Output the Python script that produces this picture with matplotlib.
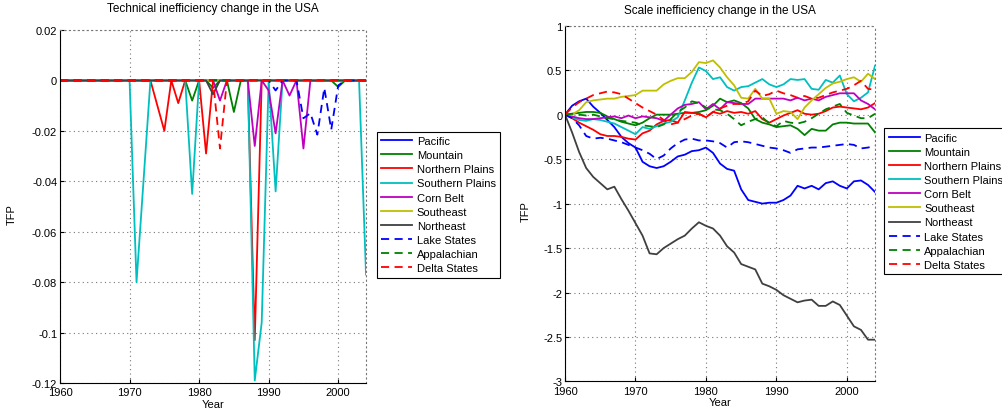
import numpy as np
import matplotlib
matplotlib.use("Agg")
import matplotlib.pyplot as plt

plt.rcParams['font.family'] = ['Liberation Sans', 'DejaVu Sans']

years = np.arange(1960, 2005)

regions = ["Pacific", "Mountain", "Northern Plains", "Southern Plains", "Corn Belt",
           "Southeast", "Northeast", "Lake States", "Appalachian", "Delta States"]
colors = ['#0000ff', '#008000', '#ff0000', '#00bfbf', '#bf00bf',
          '#bfbf00', '#404040', '#0000ff', '#008000', '#ff0000']
styles = ['-', '-', '-', '-', '-', '-', '-', '--', '--', '--']

# technical inefficiency change, 1960-2004 (one row per decade)
tech_pacific = [0, 0, 0, 0, 0, 0, 0, 0, 0, 0,
                0, 0, 0, 0, 0, 0, 0, 0, 0, 0,
                0, 0, 0, 0, 0, 0, 0, 0, 0, 0,
                0, 0, 0, 0, 0, 0, 0, 0, 0, 0,
                0, 0, 0, 0, 0]
tech_mountain = [0, 0, 0, 0, 0, 0, 0, 0, 0, 0,
                 0, 0, 0, 0, 0, 0, 0, 0, 0, -0.008,
                 0, 0, -0.003, 0, 0, -0.0125, 0, 0, 0, 0,
                 0, 0, 0, 0, 0, 0, 0, 0, 0, 0,
                 -0.0026, 0, 0, 0, 0]
tech_nplains = [0, 0, 0, 0, 0, 0, 0, 0, 0, 0,
                0, 0, 0, 0, -0.010, -0.020, 0, -0.009, 0, 0,
                0, -0.029, 0, 0, 0, 0, 0, 0, -0.103, 0,
                0, 0, 0, 0, 0, 0, 0, 0, 0, 0,
                0, 0, 0, 0, 0]
tech_splains = [0, 0, 0, 0, 0, 0, 0, 0, 0, 0,
                0, -0.080, -0.040, 0, 0, 0, 0, 0, 0, -0.045,
                0, 0, 0, 0, 0, 0, 0, 0, -0.119, -0.096,
                0, -0.044, 0, 0, 0, 0, 0, 0, 0, 0,
                0, 0, 0, 0, -0.077]
tech_cornbelt = [0, 0, 0, 0, 0, 0, 0, 0, 0, 0,
                 0, 0, 0, 0, 0, 0, 0, 0, 0, 0,
                 0, 0, 0, -0.008, 0, 0, 0, 0, -0.026, 0,
                 -0.004, -0.021, 0, -0.006, 0, -0.027, 0, 0, 0, 0,
                 0, 0, 0, 0, 0]
tech_southeast = [0, 0, 0, 0, 0, 0, 0, 0, 0, 0,
                  0, 0, 0, 0, 0, 0, 0, 0, 0, 0,
                  0, 0, 0, 0, 0, 0, 0, 0, 0, 0,
                  0, 0, 0, 0, 0, 0, 0, 0, 0, 0,
                  0, 0, 0, 0, 0]
tech_northeast = [0, 0, 0, 0, 0, 0, 0, 0, 0, 0,
                  0, 0, 0, 0, 0, 0, 0, 0, 0, 0,
                  0, 0, -0.0055, 0, 0, 0, 0, 0, 0, 0,
                  0, 0, 0, 0, 0, 0, 0, 0, 0, 0,
                  0, 0, 0, 0, 0]
tech_lake = [0, 0, 0, 0, 0, 0, 0, 0, 0, 0,
             0, 0, 0, 0, 0, 0, 0, 0, 0, 0,
             0, 0, 0, 0, 0, 0, 0, 0, 0, 0,
             0, -0.004, 0, 0, 0, -0.015, -0.013, -0.0215, -0.003, -0.0195,
             -0.002, 0, 0, 0, 0]
tech_appalachian = [0, 0, 0, 0, 0, 0, 0, 0, 0, 0,
                    0, 0, 0, 0, 0, 0, 0, 0, 0, 0,
                    0, 0, 0, 0, 0, 0, 0, 0, 0, 0,
                    0, 0, 0, 0, 0, 0, 0, 0, 0, 0,
                    0, 0, 0, 0, 0]
tech_delta = [0, 0, 0, 0, 0, 0, 0, 0, 0, 0,
              0, 0, 0, 0, 0, 0, 0, 0, 0, 0,
              0, 0, 0, -0.027, 0, 0, 0, 0, 0, 0,
              0, 0, 0, 0, 0, 0, 0, 0, 0, 0,
              0, 0, 0, 0, 0]

# scale inefficiency change, 1960-2004
scale_pacific = [0, 0.10, 0.15, 0.18, 0.09, 0.02, -0.06, -0.14, -0.25, -0.32,
                 -0.37, -0.53, -0.58, -0.60, -0.58, -0.53, -0.47, -0.45, -0.41, -0.40,
                 -0.37, -0.43, -0.55, -0.61, -0.63, -0.84, -0.96, -0.98, -1.00, -0.99,
                 -0.99, -0.96, -0.91, -0.80, -0.83, -0.80, -0.84, -0.77, -0.75, -0.80,
                 -0.83, -0.75, -0.74, -0.79, -0.87]
scale_mountain = [0, 0.01, 0.02, 0.03, 0.03, 0.02, -0.02, -0.05, -0.08, -0.10,
                  -0.12, -0.09, -0.04, 0.00, 0.00, 0.00, 0.01, 0.02, 0.02, 0.03,
                  0.05, 0.10, 0.18, 0.14, 0.16, 0.13, 0.07, -0.05, -0.09, -0.11,
                  -0.14, -0.13, -0.12, -0.16, -0.23, -0.16, -0.18, -0.18, -0.11, -0.09,
                  -0.09, -0.10, -0.10, -0.10, -0.20]
scale_nplains = [0, -0.04, -0.09, -0.13, -0.17, -0.22, -0.24, -0.24, -0.25, -0.27,
                 -0.28, -0.21, -0.18, -0.11, -0.07, -0.06, -0.09, 0.03, 0.02, 0.01,
                 -0.03, 0.03, 0.01, 0.04, 0.02, 0.03, 0.01, 0.04, -0.05, -0.09,
                 -0.05, -0.01, 0.02, 0.05, 0.01, 0.00, 0.01, 0.04, 0.08, 0.09,
                 0.08, 0.07, 0.06, 0.08, 0.13]
scale_splains = [0, -0.03, -0.06, -0.07, -0.05, -0.06, -0.08, -0.10, -0.14, -0.18,
                 -0.22, -0.14, -0.16, -0.13, -0.10, -0.08, -0.03, 0.16, 0.36, 0.53,
                 0.49, 0.40, 0.42, 0.31, 0.27, 0.31, 0.32, 0.36, 0.40, 0.34,
                 0.31, 0.34, 0.40, 0.39, 0.40, 0.29, 0.28, 0.39, 0.36, 0.44,
                 0.23, 0.15, 0.19, 0.25, 0.55]
scale_cornbelt = [0, -0.02, -0.04, -0.05, -0.05, -0.04, -0.03, -0.02, -0.04, -0.01,
                  -0.04, -0.02, -0.03, -0.04, -0.07, 0.00, 0.07, 0.11, 0.12, 0.14,
                  0.06, 0.12, 0.06, 0.14, 0.13, 0.12, 0.12, 0.18, 0.18, 0.18,
                  0.18, 0.18, 0.16, 0.19, 0.16, 0.18, 0.16, 0.20, 0.22, 0.24,
                  0.24, 0.24, 0.16, 0.12, 0.06]
scale_southeast = [0, 0.00, 0.05, 0.14, 0.16, 0.17, 0.18, 0.18, 0.20, 0.21,
                   0.22, 0.27, 0.27, 0.27, 0.34, 0.38, 0.41, 0.41, 0.48, 0.59,
                   0.58, 0.61, 0.53, 0.42, 0.33, 0.19, 0.18, 0.29, 0.18, 0.18,
                   0.01, 0.04, 0.03, -0.05, 0.08, 0.16, 0.23, 0.30, 0.35, 0.37,
                   0.40, 0.42, 0.37, 0.46, 0.40]
scale_northeast = [0, -0.20, -0.42, -0.60, -0.70, -0.77, -0.84, -0.81, -0.95, -1.08,
                   -1.22, -1.36, -1.56, -1.57, -1.50, -1.45, -1.40, -1.36, -1.28, -1.21,
                   -1.25, -1.28, -1.36, -1.48, -1.55, -1.68, -1.71, -1.74, -1.90, -1.93,
                   -1.97, -2.03, -2.07, -2.11, -2.09, -2.08, -2.15, -2.15, -2.10, -2.14,
                   -2.26, -2.38, -2.42, -2.53, -2.53]
scale_lake = [0, -0.04, -0.12, -0.24, -0.27, -0.26, -0.27, -0.29, -0.31, -0.34,
              -0.37, -0.40, -0.44, -0.50, -0.46, -0.38, -0.32, -0.28, -0.27, -0.29,
              -0.29, -0.30, -0.32, -0.37, -0.31, -0.30, -0.31, -0.33, -0.35, -0.37,
              -0.38, -0.40, -0.43, -0.39, -0.38, -0.37, -0.37, -0.36, -0.35, -0.34,
              -0.33, -0.34, -0.38, -0.37, -0.35]
scale_appalachian = [0, 0.01, 0.00, -0.01, 0.00, -0.02, -0.04, -0.05, -0.07, -0.08,
                     -0.09, -0.12, -0.13, -0.14, -0.11, -0.05, 0.03, 0.08, 0.15, 0.13,
                     0.08, 0.06, 0.05, 0.01, -0.05, -0.12, -0.08, -0.05, -0.03, -0.10,
                     -0.13, -0.07, -0.09, -0.10, -0.08, -0.04, 0.01, 0.06, 0.09, 0.12,
                     0.02, -0.01, -0.04, -0.04, 0.01]
scale_delta = [0, 0.08, 0.14, 0.18, 0.22, 0.24, 0.26, 0.25, 0.23, 0.18,
               0.13, 0.08, 0.04, 0.00, -0.06, -0.11, -0.09, -0.05, -0.01, 0.01,
               -0.03, 0.03, 0.07, 0.10, 0.12, 0.12, 0.15, 0.27, 0.21, 0.23,
               0.27, 0.24, 0.22, 0.19, 0.21, 0.18, 0.19, 0.22, 0.25, 0.27,
               0.29, 0.33, 0.38, 0.29, 0.28]

tech = [tech_pacific, tech_mountain, tech_nplains, tech_splains, tech_cornbelt,
        tech_southeast, tech_northeast, tech_lake, tech_appalachian, tech_delta]
scale = [scale_pacific, scale_mountain, scale_nplains, scale_splains, scale_cornbelt,
         scale_southeast, scale_northeast, scale_lake, scale_appalachian, scale_delta]


def draw(ax, series):
    for vals, name, c, ls in zip(series, regions, colors, styles):
        if ls == '--':
            ax.plot(years, vals, color=c, lw=1.3, linestyle=(0, (4.5, 3)), label=name)
        else:
            ax.plot(years, vals, color=c, lw=1.3, label=name)


def style(ax, title, ylim, yticks, ylabels, title_pad, ylabel_x, xlabel_y):
    ax.set_xlim(1960, 2004)
    ax.set_ylim(*ylim)
    ax.set_xticks(range(1960, 2001, 10))
    ax.set_yticks(yticks)
    ax.set_yticklabels(ylabels)
    ax.grid(True, linestyle=(0, (1, 3)), color='#777777', linewidth=0.8)
    ax.tick_params(direction='in', length=3, width=0.8, labelsize=8, pad=2)
    ax.tick_params(axis='x', pad=3)
    for s in ['top', 'right']:
        ax.spines[s].set_linestyle((0, (1, 3)))
        ax.spines[s].set_color('#777777')
        ax.spines[s].set_linewidth(0.8)
    for s in ['left', 'bottom']:
        ax.spines[s].set_linewidth(0.8)
    ax.set_title(title, fontsize=8.5, pad=title_pad)
    ax.set_xlabel("Year", fontsize=8)
    ax.set_ylabel("TFP", fontsize=8)
    ax.yaxis.set_label_coords(ylabel_x, 0.48)
    ax.xaxis.set_label_coords(0.5, xlabel_y)


fig = plt.figure(figsize=(10.02, 4.10), dpi=100)
ax1 = fig.add_axes([0.0599, 0.0634, 0.3054, 0.861])
ax2 = fig.add_axes([0.5639, 0.0671, 0.3094, 0.8678])

draw(ax1, tech)
style(ax1, "Technical inefficiency change in the USA", (-0.12, 0.02),
      [-0.12, -0.1, -0.08, -0.06, -0.04, -0.02, 0, 0.02],
      ["-0.12", "-0.1", "-0.08", "-0.06", "-0.04", "-0.02", "0", "0.02"],
      14, -0.14, -0.045)

draw(ax2, scale)
style(ax2, "Scale inefficiency change in the USA", (-3, 1),
      [-3, -2.5, -2, -1.5, -1, -0.5, 0, 0.5, 1],
      ["-3", "-2.5", "-2", "-1.5", "-1", "-0.5", "0", "0.5", "1"],
      9, -0.11, -0.045)

leg_kw = dict(loc='upper left', fontsize=8, frameon=True, fancybox=False,
              edgecolor='black', framealpha=1, handlelength=2.8, handletextpad=0.4,
              labelspacing=0.37, borderpad=0.4, borderaxespad=0)
l1 = ax1.legend(bbox_to_anchor=(376.7 / 1002, 1 - 132.7 / 410),
                bbox_transform=fig.transFigure, **leg_kw)
l2 = ax2.legend(bbox_to_anchor=(884.3 / 1002, 1 - 129.3 / 410),
                bbox_transform=fig.transFigure, **leg_kw)
for lg in (l1, l2):
    lg.get_frame().set_linewidth(0.8)

fig.savefig("out.png", dpi=100)
